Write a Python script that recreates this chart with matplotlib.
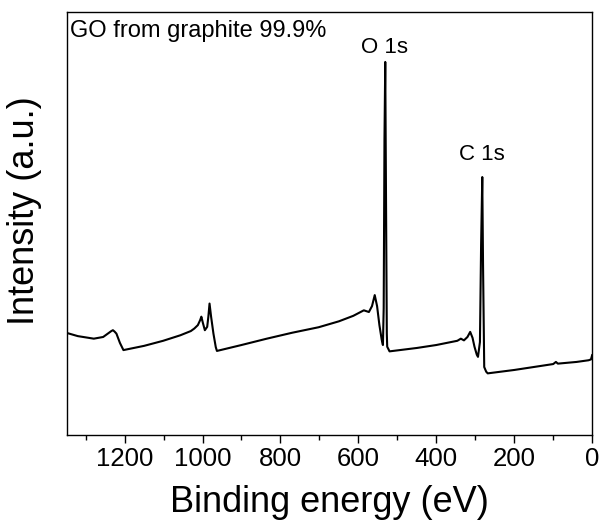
"""XPS survey spectrum of GO made from 99.9% graphite."""

import matplotlib.pyplot as plt

# binding energy (eV) and intensity (a.u., arbitrary scale 0-100)
binding_energy = [
    1350, 1320, 1279, 1255, 1243, 1234, 1230, 1226, 1221, 1212, 1203,
    1150, 1101, 1057, 1030, 1021, 1012, 1006, 1003, 999, 994, 988,
    985, 982, 978, 972, 966, 963, 900, 835, 770, 702, 650, 613, 586,
    573, 565, 558, 552, 546, 540, 537, 535, 533, 531, 529, 527, 526,
    520, 450, 400, 346, 337, 329, 320, 313, 307, 302, 296, 293, 288,
    285, 282, 280, 277, 272, 268, 200, 150, 100, 93, 88, 40, 9, 3, 0,
]
intensity = [
    24.2, 23.4, 22.8, 23.2, 24.0, 24.6, 24.8, 24.5, 24.0, 21.8, 20.1,
    21.1, 22.3, 23.6, 24.6, 25.2, 26.0, 27.2, 28.0, 26.5, 24.8, 25.6,
    28.0, 31.1, 28.0, 24.0, 20.8, 19.9, 21.3, 22.8, 24.2, 25.5, 26.9,
    28.2, 29.5, 29.1, 30.5, 33.1, 30.5, 26.0, 22.5, 21.3, 30.0, 70.0,
    88.2, 55.0, 24.0, 20.9, 19.8, 20.6, 21.3, 22.3, 22.8, 22.4, 23.2,
    24.4, 23.0, 20.9, 19.0, 18.5, 22.0, 45.0, 61.0, 40.0, 16.1, 15.0,
    14.6, 15.4, 16.1, 16.8, 17.3, 16.9, 17.3, 17.7, 17.9, 18.9,
]

peak_labels = ["O 1s", "C 1s"]
peak_positions = [533, 284]
label_heights = [90.2, 65.0]

x_ticks = [1200, 1000, 800, 600, 400, 200, 0]
x_minor_ticks = [1300, 1100, 900, 700, 500, 300, 100]


def main() -> None:
    plt.rcParams["font.family"] = ["Liberation Sans", "DejaVu Sans"]

    fig = plt.figure(figsize=(6.03, 5.23), dpi=100)
    ax = fig.add_axes([0.111, 0.168, 0.871, 0.809])

    ax.plot(binding_energy, intensity, color="black", linewidth=1.5)

    for label, pos, height in zip(peak_labels, peak_positions, label_heights):
        ax.text(pos, height, label, ha="center", va="baseline", fontsize=16)

    ax.text(0.006, 0.941, "GO from graphite 99.9%", transform=ax.transAxes,
            ha="left", va="baseline", fontsize=17)

    ax.set_xlim(1348, 0)
    ax.set_ylim(0, 100)
    ax.set_xticks(x_ticks)
    ax.set_xticks(x_minor_ticks, minor=True)
    ax.set_yticks([])
    ax.tick_params(axis="x", which="major", direction="out", length=5.8,
                   width=1.0, labelsize=18.5, pad=3)
    ax.tick_params(axis="x", which="minor", direction="out", length=3.6,
                   width=1.0)
    ax.tick_params(axis="x", top=False)

    ax.set_xlabel("Binding energy (eV)", fontsize=26)
    ax.set_ylabel("Intensity (a.u.)", fontsize=26)
    ax.xaxis.set_label_coords(0.50, -0.117)
    ax.yaxis.set_label_coords(-0.047, 0.53)

    for spine in ax.spines.values():
        spine.set_linewidth(1.0)

    fig.savefig("out.png", dpi=100)
    plt.close(fig)


if __name__ == "__main__":
    main()
